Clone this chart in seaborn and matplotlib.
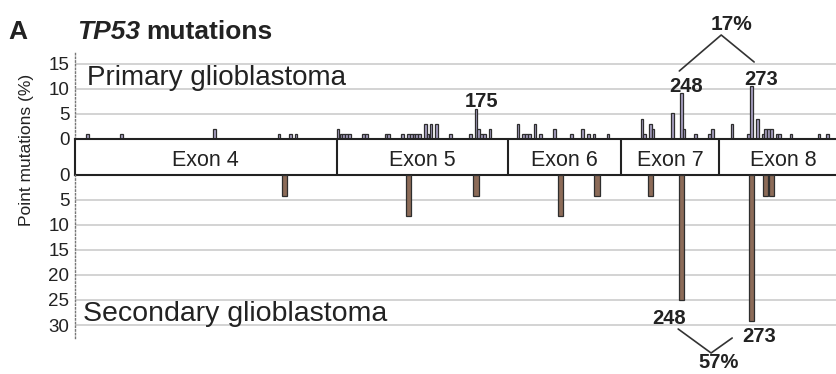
import matplotlib
matplotlib.use("Agg")
import matplotlib.pyplot as plt
import seaborn as sns

# TP53 codon positions and % of point mutations
primary_codons = [37, 49, 82, 105, 109, 111, 126, 127, 128, 129, 130, 135, 136, 143, 144,
                  149, 151, 152, 153, 154, 155, 157, 158, 159, 161, 166, 173, 175, 176, 177,
                  178, 180, 190, 192, 193, 194, 196, 198, 203, 209, 213, 215, 217, 222,
                  234, 235, 237, 238, 245, 248, 249, 253, 258, 259, 266, 272, 273, 275,
                  277, 278, 279, 280, 282, 283, 287, 297, 300]
primary_pct = [1, 1, 2, 1, 1, 1, 2, 1, 1, 1, 1, 1, 1, 1, 1,
               1, 1, 1, 1, 1, 1, 3, 1, 3, 3, 1, 1, 6, 2, 1,
               1, 2, 3, 1, 1, 1, 3, 1, 2, 1, 2, 1, 1, 1,
               4, 1, 3, 2, 5.2, 9.1, 2, 1, 1, 2, 3, 1, 10.6, 4,
               1, 2, 2, 2, 1, 1, 1, 1, 1]

secondary_codons = [107, 151, 175, 205, 218, 237, 248, 273, 278, 280]
secondary_pct = [4.2, 8.3, 4.2, 8.3, 4.2, 4.2, 25.0, 29.2, 4.2, 4.2]

exon_names = ["Exon 4", "Exon 5", "Exon 6", "Exon 7", "Exon 8"]
exon_edges = [32.5, 125.5, 186.5, 226.5, 261.5, 307.0]

top_ticks = [0, 5, 10, 15]
bottom_ticks = [0, 5, 10, 15, 20, 25, 30]

sns.set_style("white")
plt.rcParams["font.family"] = ["Liberation Sans", "DejaVu Sans"]

W, H = 836, 374
fig = plt.figure(figsize=(W / 100, H / 100), dpi=100)


def box(x0, y0, x1, y1):
    # pixel box (top-left origin) -> figure rect
    return [x0 / W, 1 - y1 / H, (x1 - x0) / W, (y1 - y0) / H]


XMIN, XMAX = 32.5, 303.0
ax_top = fig.add_axes(box(75, 52, 836, 139))
ax_mid = fig.add_axes(box(75, 139, 836, 175))
ax_bot = fig.add_axes(box(75, 175, 836, 338))

edge = "#2e2e2e"
sns.barplot(x=primary_codons, y=primary_pct, native_scale=True, orient="x",
            color="#aaa2c4", edgecolor=edge, linewidth=0.9, saturation=1,
            errorbar=None, width=0.95, ax=ax_top)
sns.barplot(x=secondary_codons, y=secondary_pct, native_scale=True, orient="x",
            color="#8c6b58", edgecolor=edge, linewidth=0.9, saturation=1,
            errorbar=None, width=0.95, ax=ax_bot)

for ax, ticks, lim in [(ax_top, top_ticks, (0, 17.4)), (ax_bot, bottom_ticks, (32.6, 0))]:
    ax.set_xlim(XMIN, XMAX)
    ax.set_ylim(*lim)
    ax.set_xticks([])
    ax.set_yticks(ticks)
    ax.set_yticklabels([str(t) for t in ticks])
    ax.set_xlabel("")
    ax.set_ylabel("")
    ax.set_axisbelow(True)
    for t in ticks[1:]:
        ax.axhline(t, color="#cccccc", lw=1.2, zorder=0)
    ax.tick_params(axis="y", length=0, pad=4, labelsize=13.5, labelcolor="#222222")
    for s in ["top", "right", "bottom"]:
        ax.spines[s].set_visible(False)
    ax.spines["left"].set_linestyle(":")
    ax.spines["left"].set_color("#777777")
    ax.spines["left"].set_linewidth(1.0)
    ax.patch.set_alpha(0)

# exon band
ax_mid.set_xlim(XMIN, XMAX)
ax_mid.set_ylim(0, 1)
ax_mid.set_xticks([])
ax_mid.set_yticks([])
ax_mid.spines["right"].set_visible(False)
for s in ["top", "bottom", "left"]:
    ax_mid.spines[s].set_color("#222222")
    ax_mid.spines[s].set_linewidth(1.5)
ax_mid.vlines(exon_edges[1:-1], 0, 1, color="#222222", lw=1.5)
for name, a, b in zip(exon_names, exon_edges[:-1], exon_edges[1:]):
    ax_mid.text((a + b) / 2, 0.4, name, ha="center", va="center", fontsize=15.5, color="#222222")

# panel labels
ax_top.text(36.8, 12.2, "Primary glioblastoma", fontsize=20, va="center", color="#222222")
ax_bot.text(35.3, 27.8, "Secondary glioblastoma", fontsize=20.5, va="center", color="#222222")

lab = dict(fontsize=14.5, fontweight="bold", ha="center", va="center", color="#222222", clip_on=False)
ax_top.text(177, 7.4, "175", **lab)
ax_top.text(249.7, 10.4, "248", **lab)
ax_top.text(276.4, 11.8, "273", **lab)
ax_top.text(265.7, 22.8, "17%", **dict(lab, fontsize=15))
ax_top.plot([247.3, 262.2, 273.9], [13.6, 20.8, 15.4], color="#333333", lw=1.2, clip_on=False)

ax_bot.text(243.7, 28.6, "248", **lab)
ax_bot.text(275.7, 32.4, "273", **lab)
ax_bot.text(261.1, 37.5, "57%", **dict(lab, fontsize=14.5))
ax_bot.plot([246.9, 258.6, 266.1], [30.8, 35.6, 32.6], color="#333333", lw=1.2, clip_on=False)

# title
fig.text(8 / W, 1 - 32 / H, "A", fontsize=19, fontweight="bold", va="center", color="#222222")
t1 = fig.text(77 / W, 1 - 32 / H, "TP53", fontsize=19, fontweight="bold", fontstyle="italic",
              va="center", color="#222222")
bb = t1.get_window_extent(renderer=fig.canvas.get_renderer())
fig.text(bb.x1 / W + 6 / W, 1 - 32 / H, "mutations", fontsize=19, fontweight="bold",
         va="center", color="#222222")

fig.text(27 / W, 1 - 150 / H, "Point mutations (%)", rotation=90, ha="center", va="center",
         fontsize=12.5, color="#222222")

fig.savefig("out.png", dpi=100)
